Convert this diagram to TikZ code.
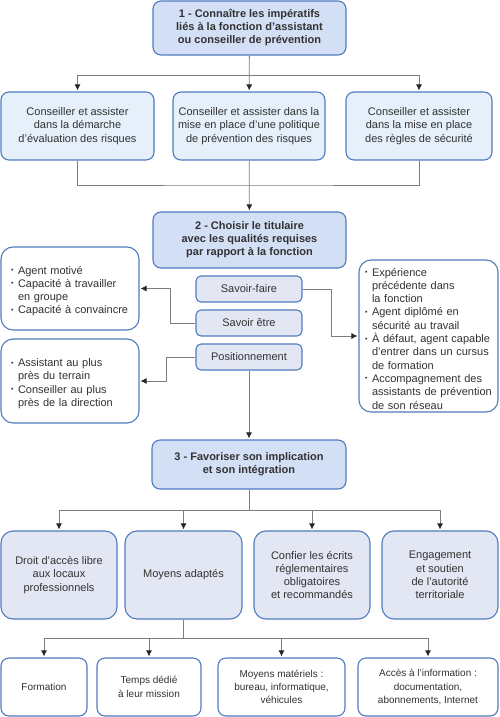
\documentclass[tikz,border=0pt]{standalone}
\usepackage{fontspec}
\setmainfont{Liberation Sans}
\usetikzlibrary{arrows.meta}
\usepackage{xcolor}

\definecolor{titlefill}{RGB}{211,223,245}
\definecolor{boxline}{RGB}{79,123,192}
\definecolor{missfill}{RGB}{229,240,251}
\definecolor{qualfill}{RGB}{227,231,243}
\definecolor{linkgray}{RGB}{125,125,125}
\definecolor{txt}{RGB}{50,50,50}

\newcommand{\bul}{\par\hangindent=7pt\hangafter=1\noindent\makebox[7pt][l]{\raisebox{1.5pt}{\fontsize{7}{7}\selectfont\textbullet}}}

\tikzset{
  basebox/.style={draw=boxline, line width=1.1pt, rounded corners=8pt, inner sep=0pt, text=txt,
        align=center, font=\fontsize{11}{13.3}\selectfont},
  titlebox/.style={basebox, fill=titlefill, minimum width=193pt, font=\fontsize{11}{13}\selectfont\bfseries},
  missionbox/.style={basebox, fill=missfill, minimum height=68pt},
  qualbox/.style={basebox, fill=qualfill, rounded corners=5pt, minimum width=106pt, minimum height=26pt},
  listbox/.style={basebox, fill=white, align=left, rounded corners=12pt},
  meansbox/.style={basebox, fill=qualfill, rounded corners=12pt, minimum width=116pt, minimum height=88pt},
  toolbox/.style={basebox, fill=white, minimum height=58pt, font=\fontsize{10}{13.3}\selectfont},
  wire/.style={draw=linkgray, line width=0.8pt},
  link/.style={wire, shorten >=1pt, -{Latex[length=6pt,width=6pt,color=black!85]}}
}

\begin{document}
\begin{tikzpicture}[x=1pt,y=-1pt]
    \useasboundingbox (0,0) rectangle (500,717);

    % step 1
    \node[titlebox, minimum height=54pt] (t1) at (249.5,28) {1 - Connaître les impératifs\\ liés à la fonction d’assistant\\ ou conseiller de prévention};
    \node[missionbox, minimum width=152pt] (c2) at (249,126) {Conseiller et assister dans la\\ mise en place d’une politique\\ de prévention des risques};
    \node[missionbox, minimum width=153pt] (c1) [left of=c2, node distance=171.5pt] {Conseiller et assister\\ dans la démarche\\ d’évaluation des risques};
    \node[missionbox, minimum width=146pt] (c3) [right of=c2, node distance=170pt] {Conseiller et assister\\ dans la mise en place\\ des règles de sécurité};

    % step 2
    \node[titlebox, minimum height=56pt] (t2) at (249.5,240) {2 - Choisir le titulaire\\ avec les qualités requises\\ par rapport à la fonction};
    \node[qualbox] (sf) at (249,289) {Savoir-faire};
    \node[qualbox] (se) [below of=sf, node distance=34pt] {Savoir être};
    \node[qualbox] (pos) [below of=se, node distance=34pt] {Positionnement};
    \node[listbox, text width=118pt, inner xsep=10pt, minimum height=83pt] (qa) at (70,288.5)
        {\bul Agent motivé\bul Capacité à travailler\newline en groupe\bul Capacité à convaincre\par};
    \node[listbox, text width=118pt, inner xsep=10pt, minimum height=84pt] (qb) at (70,381)
        {\bul Assistant au plus\newline près du terrain\bul Conseiller au plus\newline près de la direction\par};
    \node[listbox, text width=127pt, inner xsep=6pt, minimum height=152pt] (qr) at (428.5,336)
        {\bul Expérience\newline précédente dans\newline la fonction\bul Agent diplômé en\newline sécurité au travail\bul À défaut, agent capable\newline d’entrer dans un cursus\newline de formation\bul Accompagnement des\newline assistants de prévention\newline de son réseau\par};

    % step 3
    \node[titlebox, minimum width=194pt, minimum height=49pt] (t3) at (249,464.5) {3 - Favoriser son implication\\ et son intégration};
    \node[meansbox] (m1) at (59,575) {Droit d’accès libre\\ aux locaux\\ professionnels};
    \node[meansbox, minimum width=117pt] (m2) at (183.5,575) {Moyens adaptés};
    \node[meansbox] (m3) [right of=m2, node distance=128.5pt] {Confier les écrits\\ réglementaires\\ obligatoires\\ et recommandés};
    \node[meansbox] (m4) [right of=m3, node distance=128pt] {Engagement\\ et soutien\\ de l’autorité\\ territoriale};
    \node[toolbox, minimum width=86pt] (b1) at (44,687) {Formation};
    \node[toolbox, minimum width=104pt] (b2) at (149,687) {Temps dédié\\ à leur mission};
    \node[toolbox, minimum width=127pt] (b3) at (281.5,687) {Moyens matériels :\\ bureau, informatique,\\ véhicules};
    \node[toolbox, minimum width=140pt] (b4) at (428,687) {Accès à l’information :\\ documentation,\\ abonnements, Internet};

    \coordinate (j1) at (249,75);
    \coordinate (j2) at (249,185);
    \coordinate (j3) at (249,510);
    \coordinate (j4) at (183.5,638);

    \path (t1) edge[link] (c2);
    \draw[link] (j1) -| (c1);
    \draw[link] (j1) -| (c3);
    \draw[wire] (c1.south) |- (j2) -| (c3.south);
    \path (c2) edge[link] (t2);

    \draw[link] (se.west) -- ++(-25,0) |- (qa.east);
    \draw[link] (sf.east) -- ++(29,0) |- (qr.west);
    \draw[link] (pos.west) -- ++(-29,0) |- (qb.east);
    \path (pos) edge[link] (t3);

    \draw[wire] (t3) -- (j3);
    \foreach \m in {m1,m2,m3,m4}
        \draw[link] (j3) -| (\m);
    \draw[wire] (m2) -- (j4);
    \foreach \b in {b1,b2,b3,b4}
        \draw[link] (j4) -| (\b);

\end{tikzpicture}
\end{document}
